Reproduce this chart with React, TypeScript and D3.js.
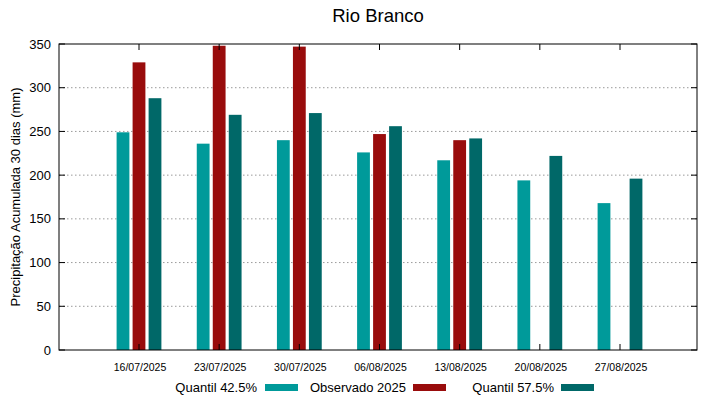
import React from "react";
import * as d3 from "d3";

const categories = ["16/07/2025", "23/07/2025", "30/07/2025", "06/08/2025", "13/08/2025", "20/08/2025", "27/08/2025"];
const seriesNames = ["Quantil 42.5%", "Observado 2025", "Quantil 57.5%"];
const q425 = [249, 236, 240, 226, 217, 194, 168];
const observado: (number | null)[] = [329, 348, 347, 247, 240, null, null];
const q575 = [288, 269, 271, 256, 242, 222, 196];
const yTicks = [0, 50, 100, 150, 200, 250, 300, 350];
const colors = ["#009a9a", "#990c0c", "#006868"];

const W = 719, H = 399;
const L = 59, R = 697, T = 44, B = 350;
const font = "'Liberation Sans', Arial, sans-serif";

export default function App() {
  const y = d3.scaleLinear().domain([0, 350]).range([B, T]);
  const x = d3.scaleLinear().domain([0, categories.length - 1]).range([139, 620]);
  const x1 = d3.scaleBand<string>().domain(seriesNames).range([-22.4, 22.4]).paddingInner(0.2);
  const data = [q425, observado, q575];

  const legendItems = [
    { text: seriesNames[0], tx: 257, sx: 265 },
    { text: seriesNames[1], tx: 406, sx: 413 },
    { text: seriesNames[2], tx: 554, sx: 561 },
  ];

  return (
    <svg width={W} height={H} style={{ position: "absolute", left: 0, top: 0, background: "#fff" }} fontFamily={font}>
      <rect x={0} y={0} width={W} height={H} fill="#fff" />
      <text x={378} y={22} textAnchor="middle" fontSize={18.5} fill="#000">Rio Branco</text>
      {yTicks.filter(t => t > 0 && t < 350).map(t => (
        <line key={"g" + t} x1={L} x2={R} y1={y(t)} y2={y(t)} stroke="#9a9a9a" strokeWidth={1} strokeDasharray="1.5,2.5" />
      ))}
      {data.map((vals, si) =>
        vals.map((v, i) =>
          v == null ? null : (
            <rect key={si + "-" + i} x={x(i) + (x1(seriesNames[si]) as number)} y={y(v)} width={x1.bandwidth()} height={B - y(v)} fill={colors[si]} />
          )
        )
      )}
      {yTicks.map(t => (
        <g key={"yt" + t}>
          <line x1={L} x2={L + 6} y1={y(t)} y2={y(t)} stroke="#000" />
          <line x1={R} x2={R - 6} y1={y(t)} y2={y(t)} stroke="#000" />
          <text x={51} y={y(t)} dy="0.35em" textAnchor="end" fontSize={13} fill="#000">{t}</text>
        </g>
      ))}
      {categories.map((c, i) => (
        <g key={"xt" + c}>
          <line x1={x(i)} x2={x(i)} y1={B} y2={B - 6} stroke="#000" />
          <line x1={x(i)} x2={x(i)} y1={T} y2={T + 6} stroke="#000" />
          <text x={x(i) + 1} y={371} textAnchor="middle" fontSize={10.5} fill="#000">{c}</text>
        </g>
      ))}
      <rect x={L} y={T} width={R - L} height={B - T} fill="none" stroke="#000" strokeWidth={1} />
      <text transform={`translate(20,${(T + B) / 2}) rotate(-90)`} textAnchor="middle" fontSize={13} fill="#000">Precipitação Acumulada 30 dias (mm)</text>
      {legendItems.map((li, k) => (
        <g key={"lg" + k}>
          <text x={li.tx} y={392} textAnchor="end" fontSize={13} fill="#000">{li.text}</text>
          <rect x={li.sx} y={384} width={33} height={7} fill={colors[k]} />
        </g>
      ))}
    </svg>
  );
}
